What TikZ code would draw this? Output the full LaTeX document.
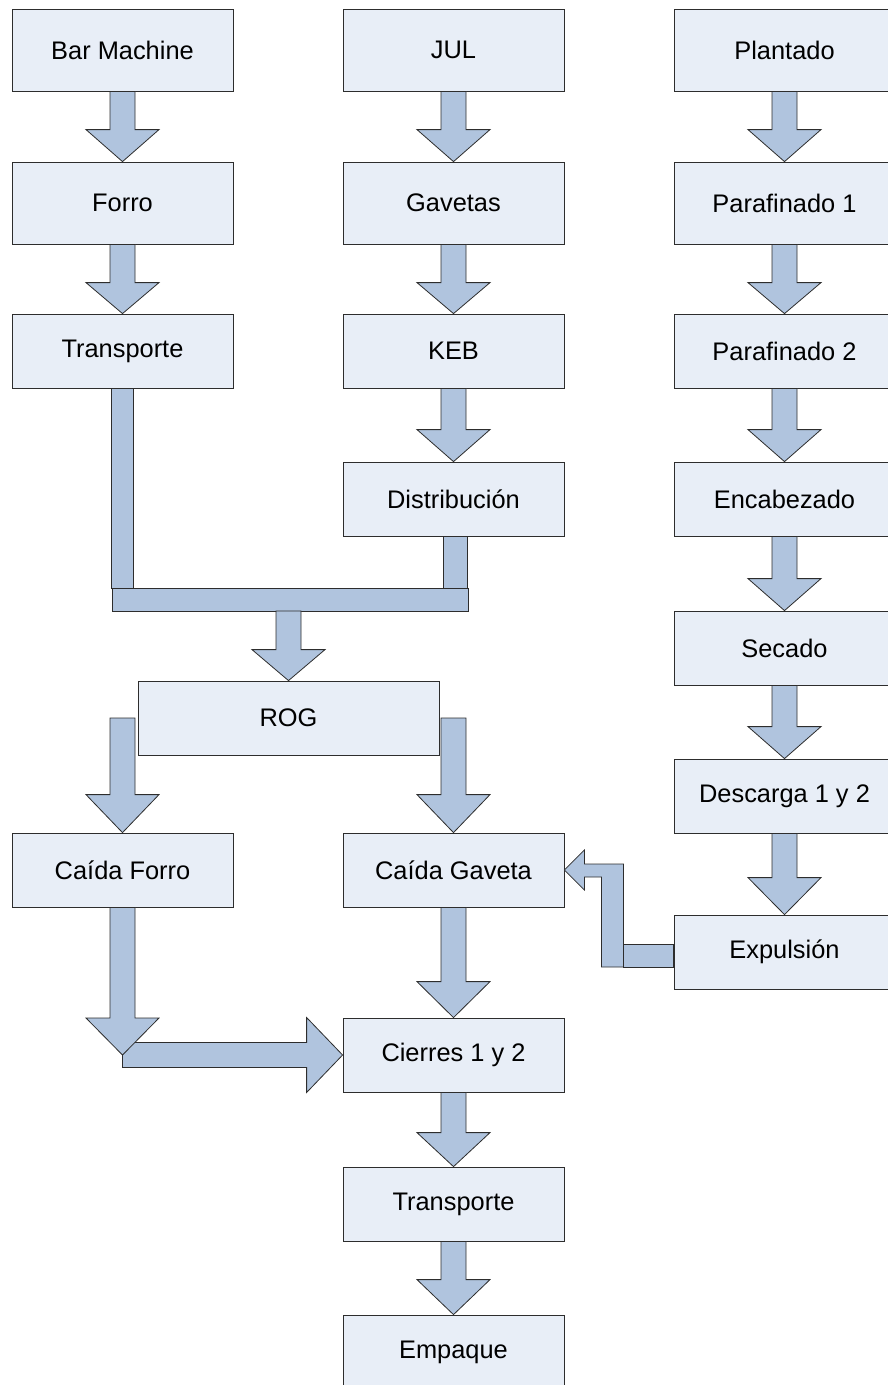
\documentclass[tikz,border=0pt]{standalone}
\usepackage{fontspec}
\setmainfont{Liberation Sans}
\usepackage[svgnames]{xcolor}
\usepackage{tikz}
\usetikzlibrary{calc}

\definecolor{cajaazul}{RGB}{232,238,247}
\definecolor{flechaazul}{RGB}{176,196,222}
\definecolor{borde}{RGB}{45,45,45}

\newcommand{\flecha}[3][32]{%
    \filldraw[bloque] let \p1=(#2), \p2=(#3) in
        (\x2-12.5pt,\y1) -- (\x2-12.5pt,\y2+#1pt) -- (\x2-36.5pt,\y2+#1pt) -- (\p2)
        -- (\x2+36.5pt,\y2+#1pt) -- (\x2+12.5pt,\y2+#1pt) -- (\x2+12.5pt,\y1) -- cycle;
}

\begin{document}
\begin{tikzpicture}[x=1pt, y=-1pt,
        caja/.style={draw=borde, fill=cajaazul, line width=0.8pt, minimum width=221pt,
            minimum height=74pt, inner sep=0pt, font=\fontsize{25.4}{30}\selectfont},
        alta/.style={minimum height=82pt},
        bloque/.style={draw=borde, fill=flechaazul, line width=0.8pt, line join=miter}]
        \useasboundingbox (0,0) rectangle (888,1385);
        \clip (0,0) rectangle (888,1385);
        \node[caja, alta] (barmachine) at (122.5,50) {Bar Machine};
        \node[caja, alta] (forro) at (122.5,203) {Forro};
        \node[caja] (transporte) at (122.5,351) {Transporte};
        \node[caja, alta] (jul) at (453.5,50) {JUL};
        \node[caja, alta] (gavetas) at (453.5,203) {Gavetas};
        \node[caja] (keb) at (453.5,351) {KEB};
        \node[caja] (distribucion) at (453.5,499) {Distribución};
        \node[caja, alta] (plantado) at (784.5,50) {Plantado};
        \node[caja, alta] (parafinadoa) at (784.5,203) {Parafinado 1};
        \node[caja] (parafinadob) at (784.5,351) {Parafinado 2};
        \node[caja] (encabezado) at (784.5,499) {Encabezado};
        \node[caja] (secado) at (784.5,648) {Secado};
        \node[caja] (descarga) at (784.5,796) {Descarga 1 y 2};
        \node[caja] (expulsion) at (784.5,952) {Expulsión};
        \node[caja, minimum width=301pt] (rog) at (288.5,718) {ROG};
        \node[caja] (caidaforro) at (122.5,870) {Caída Forro};
        \node[caja] (caidagaveta) at (453.5,870) {Caída Gaveta};
        \node[caja] (cierres) at (453.5,1055) {Cierres 1 y 2};
        \node[caja] (transportefin) at (453.5,1204) {Transporte};
        \node[caja] (empaque) at (453.5,1352) {Empaque};
        \foreach \a/\b/\h in {barmachine/forro/32, jul/gavetas/32, plantado/parafinadoa/32,
                forro/transporte/31, gavetas/keb/31, parafinadoa/parafinadob/31,
                keb/distribucion/32, parafinadob/encabezado/32, encabezado/secado/32,
                secado/descarga/32, descarga/expulsion/37, caidagaveta/cierres/36,
                cierres/transportefin/34, transportefin/empaque/35}
            {
                \flecha[\h]{\a.south}{\b.north}
            }
        \coordinate (barraizq) at (112,588);
        \coordinate (barrader) at (468,611);
        \coordinate (barrasur) at (290,611);
        \filldraw[bloque] let \p1=(transporte.south), \p2=(barraizq) in (\x1-11pt,\y1) rectangle (\x1+11pt,\y2);
        \filldraw[bloque] let \p1=(distribucion.south), \p2=(barraizq) in (\x1-10.5pt,\y1) rectangle (\x1+14pt,\y2);
        \filldraw[bloque] (barraizq) rectangle (barrader);
        \flecha[31]{barrasur}{rog.north}
        \flecha[38]{caidaforro.north |- rog.center}{caidaforro.north}
        \flecha[38]{caidagaveta.north |- rog.center}{caidagaveta.north}
        \filldraw[bloque] let \p1=(caidaforro.south |- cierres.west), \p2=(cierres.west) in
            (\x1,\y1+12.5pt) -- (\x2-36pt,\y2+12.5pt) -- (\x2-36pt,\y2+37.5pt) -- (\p2)
            -- (\x2-36pt,\y2-37.5pt) -- (\x2-36pt,\y2-12.5pt) -- (\x1,\y1-12.5pt) -- cycle;
        \flecha[37]{caidaforro.south}{caidaforro.south |- cierres.west}
        \filldraw[bloque] let \p1=(caidagaveta.east), \p2=(expulsion.west) in
            (\p1) -- (\x1+20pt,\y1+20pt) -- (\x1+20pt,\y1+6pt) -- (\x1+59pt,\y1+6pt)
            -- (\x1+59pt,\y2-15pt) -- (\x1+37pt,\y2-15pt) -- (\x1+37pt,\y1-7pt)
            -- (\x1+20pt,\y1-7pt) -- (\x1+20pt,\y1-20pt) -- cycle;
        \filldraw[bloque] let \p1=(caidagaveta.east), \p2=(expulsion.west) in
            (\x1+59pt,\y2+8pt) rectangle (\p2 |- 0,967);
    \end{tikzpicture}
\end{document}
